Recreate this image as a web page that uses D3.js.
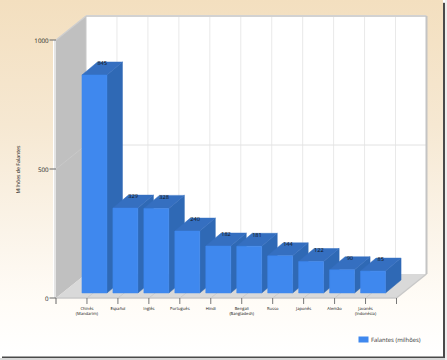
<!DOCTYPE html>
<html><head><meta charset="utf-8">
<script src="https://cdn.jsdelivr.net/npm/d3@7/dist/d3.min.js"></script>
<style>html,body{margin:0;padding:0;background:#fff}svg{display:block}text{font-family:"Open Sans","DejaVu Sans",sans-serif;text-rendering:geometricPrecision}</style>
</head><body><div id="c"></div>
<script>
const categories=[["Chinês","(Mandarim)"],["Español"],["Inglês"],["Português"],["Hindi"],["Bengali","(Bangladesh)"],["Russo"],["Japonês"],["Alemão"],["Javanês","(Indonésia)"]];
const values=[845,329,328,240,182,181,144,122,90,85];
const valueTicks=[0,500,1000];
const seriesName="Falantes (milhões)";
const axisTitle="Milhões de Falantes";

const W=447,H=360;
const svg=d3.select("#c").append("svg").attr("width",W).attr("height",H);
const defs=svg.append("defs");
const g=defs.append("linearGradient").attr("id","bg").attr("x1",0).attr("y1",0).attr("x2",0).attr("y2",1);
[[0,"#f3dfbf"],[0.35,"#f6e8d2"],[0.65,"#fbf4e9"],[0.85,"#fffcf7"],[1,"#ffffff"]].forEach(s=>g.append("stop").attr("offset",s[0]).attr("stop-color",s[1]));

// frame + shadow
svg.append("rect").attr("x",2).attr("y",2).attr("width",443).attr("height",356).attr("fill","#dcdcdc");
svg.append("rect").attr("x",2).attr("y",3).attr("width",443).attr("height",355).attr("fill","#4a4a4a");
svg.append("rect").attr("x",0).attr("y",0).attr("width",443).attr("height",356.5).attr("fill","url(#bg)");
svg.append("rect").attr("x",0).attr("y",358).attr("width",W).attr("height",2).attr("fill","#d8d8d8");
svg.append("rect").attr("x",445).attr("y",0).attr("width",2).attr("height",H).attr("fill","#eeeeee");

const x0=56,depthX=30,depthY=-24;
const y=d3.scaleLinear().domain([0,1000]).range([298,40]);
const x=d3.scaleLinear().domain([0,categories.length+1]).range([x0,396.5]);
const xPos=i=>x(i+1);
const xEnd=x.range()[1];
const y0=y(0),y1=y(1000);

// white strip left of the side wall
svg.append("rect").attr("x",x0-3).attr("y",y1).attr("width",3).attr("height",y0-y1).attr("fill","#fff");

const poly=(pts,fill,stroke)=>svg.append("polygon").attr("points",pts.map(p=>p.join(",")).join(" ")).attr("fill",fill).attr("stroke",stroke||"none").attr("stroke-width",.5);
// back wall
poly([[x0+depthX,y1+depthY],[xEnd+depthX,y1+depthY],[xEnd+depthX,y0+depthY],[x0+depthX,y0+depthY]],"#fff");
// side wall
poly([[x0,y1],[x0+depthX,y1+depthY],[x0+depthX,y0+depthY],[x0,y0]],"#c0c0c0");
// floor
poly([[x0,y0],[x0+depthX,y0+depthY],[xEnd+depthX,y0+depthY],[xEnd,y0]],"#d9d9d9");

const line=(a,b,c,d,col,w)=>svg.append("line").attr("x1",a).attr("y1",b).attr("x2",c).attr("y2",d).attr("stroke",col).attr("stroke-width",w||1);
// grid on back wall and floor
d3.range(1,categories.length+1).forEach(i=>{
  line(x(i)+depthX,y1+depthY,x(i)+depthX,y0+depthY,"#e9e9e9",1);
  line(x(i),y0,x(i)+depthX,y0+depthY,"#c6c6c6",.8);
});
valueTicks.filter(v=>v>0&&v<1000).forEach(v=>{
  line(x0,y(v),x0+depthX,y(v)+depthY,"#cacaca",.8);
  line(x0+depthX,y(v)+depthY,xEnd+depthX,y(v)+depthY,"#e2e2e2",1);
});
// wall borders
line(x0+depthX,y1+depthY,xEnd+depthX,y1+depthY,"#d2d2d2",2);
line(xEnd+depthX,y1+depthY,xEnd+depthX,y0+depthY,"#c4c4c4",2);
line(x0,y1,x0+depthX,y1+depthY,"#cfcfcf",1.5);
line(x0+depthX,y1+depthY,x0+depthX,y0+depthY,"#c8c8c8",1);
line(x0-1,y1,x0-1,y0,"#c8c8c8",1);
line(xEnd,y0,xEnd+depthX,y0+depthY,"#c8c8c8",1.5);
line(x0,y0,xEnd,y0,"#c8c8c8",1.5);

// bars
const barOff=-5,barW=25,bDx=15.5,bDy=-13,floorLift=5;
values.forEach((v,i)=>{
  const l=xPos(i)+barOff,r=l+barW,b=y0-floorLift,t=y(v)-floorLift;
  poly([[r,t],[r+bDx,t+bDy],[r+bDx,b+bDy],[r,b]],"#2f69b5","#2f69b5");
  poly([[l,t],[l+bDx,t+bDy],[r+bDx,t+bDy],[r,t]],"#356fc0","#356fc0");
  poly([[l,t],[r,t],[r,b],[l,b]],"#3f88ee","#3f88ee");
  svg.append("text").attr("x",l+bDx/2+barW/2).attr("y",t+bDy+3.2).attr("text-anchor","middle")
    .attr("font-size",5.6).attr("fill","#111").text(v);
});

// value axis
valueTicks.forEach(v=>{
  line(x0-6.5,y(v),x0,y(v),"#666",1);
  svg.append("text").attr("x",x0-7.5).attr("y",y(v)+2.5).attr("text-anchor","end").attr("font-size",6.2).attr("fill","#222").text(v);
});
line(x0,y0,x0,y0+6,"#666",1);
line(xEnd,y0,xEnd,y0+6,"#777",1);

// category axis
categories.forEach((c,i)=>{
  line(xPos(i),y0,xPos(i),y0+6,"#777",1);
  const t=svg.append("text").attr("text-anchor","middle").attr("font-size",4.1).attr("fill","#111");
  c.forEach((s,k)=>t.append("tspan").attr("x",xPos(i)).attr("y",309.8+k*5.1).text(s));
});

// axis title
svg.append("text").attr("transform","translate(20.3,169.5) rotate(-90)").attr("text-anchor","middle").attr("font-size",5.2).attr("fill","#111").text(axisTitle);

// legend
svg.append("rect").attr("x",358.5).attr("y",336.5).attr("width",10).attr("height",6).attr("fill","#3f88ee");
svg.append("text").attr("x",371).attr("y",342.3).attr("font-size",5.9).attr("fill","#333").text(seriesName);
</script></body></html>
